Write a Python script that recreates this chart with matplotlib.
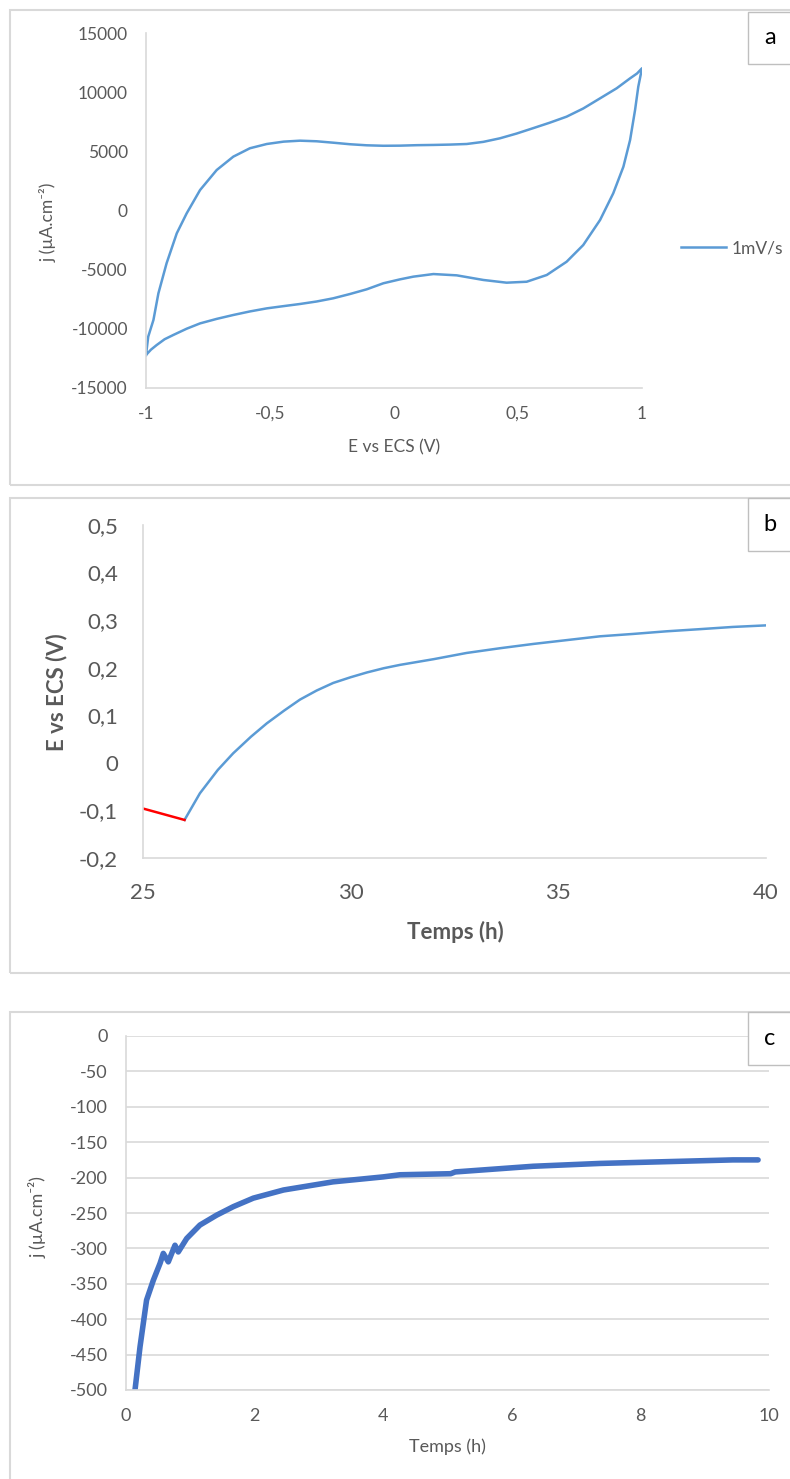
import matplotlib
matplotlib.use("Agg")
import matplotlib.pyplot as plt
from matplotlib.patches import Rectangle
from matplotlib.ticker import FuncFormatter

plt.rcParams['font.family'] = ['Lato', 'DejaVu Sans']
plt.rcParams['axes.unicode_minus'] = False

# --- data ---
# (a) cyclic voltammogram, 1 mV/s
cv_E = [-1.0, -0.991, -0.970, -0.950, -0.917, -0.876, -0.836, -0.782, -0.715,
        -0.648, -0.581, -0.513, -0.445, -0.379, -0.312, -0.245, -0.178, -0.110,
        -0.043, 0.024, 0.092, 0.159, 0.226, 0.293, 0.360, 0.427, 0.494, 0.560,
        0.628, 0.696, 0.763, 0.831, 0.898, 0.952, 0.980, 1.0,
        0.985, 0.972, 0.952, 0.925, 0.884, 0.831, 0.763, 0.696, 0.616, 0.535,
        0.454, 0.360, 0.253, 0.159, 0.078, 0.024, -0.043, -0.110, -0.178,
        -0.245, -0.312, -0.379, -0.445, -0.513, -0.581, -0.648, -0.715,
        -0.782, -0.836, -0.890, -0.925, -0.957, -0.980, -1.0]
cv_j = [-12210, -10660, -9250, -7000, -4460, -1930, -240, 1730, 3420,
        4550, 5260, 5620, 5820, 5900, 5850, 5730, 5600, 5510,
        5470, 5480, 5520, 5540, 5570, 5620, 5800, 6100, 6500, 6950,
        7420, 7930, 8620, 9480, 10330, 11170, 11580, 12020,
        10460, 8490, 5960, 3700, 1450, -800, -2920, -4330, -5450, -6020,
        -6100, -5870, -5480, -5370, -5590, -5820, -6150, -6660, -7060,
        -7420, -7690, -7900, -8080, -8270, -8530, -8830, -9160,
        -9540, -9990, -10520, -10880, -11370, -11760, -12210]

# (b) potential vs time
b_red_t = [25.0, 26.0]
b_red_E = [-0.096, -0.12]
b_t = [26.0, 26.37, 26.8, 27.17, 27.6, 27.98, 28.4, 28.78, 29.18, 29.58, 30.0,
       30.39, 30.8, 31.19, 32.0, 32.79, 33.6, 34.4, 35.2, 36.0, 36.8, 37.6,
       38.4, 39.2, 40.0]
b_E = [-0.12, -0.064, -0.015, 0.02, 0.055, 0.083, 0.11, 0.133, 0.152, 0.168,
       0.18, 0.19, 0.199, 0.206, 0.218, 0.231, 0.241, 0.25, 0.258, 0.266,
       0.271, 0.2765, 0.281, 0.2857, 0.289]

# (c) current density vs time
c_t = [0.14, 0.218, 0.32, 0.425, 0.53, 0.58, 0.658, 0.762, 0.813, 0.944, 1.15,
       1.41, 1.67, 1.98, 2.45, 3.22, 4.0, 4.26, 5.05, 5.12, 6.33, 7.37, 8.4,
       9.44, 9.83]
c_j = [-500, -439, -373, -345, -321, -307, -319, -295.5, -305, -286, -267,
       -253, -241, -229, -217.5, -206, -199, -196, -194.5, -192, -184, -180,
       -177.5, -175, -175]

W, H = 790, 1479
GRAY = '#595959'
LINE = '#D9D9D9'
JLABEL = 'j (µA.cm⁻²)'


def box(l, t, r, b):
    # pixel box -> figure fraction [left, bottom, width, height]
    return [l / W, 1 - b / H, (r - l) / W, (b - t) / H]


def comma(x, pos):
    s = ('%g' % round(x, 3)).replace('.', ',')
    return '0' if s == '-0' else s


def style(ax, size, pad, grid=False):
    for s in ['top', 'right']:
        ax.spines[s].set_visible(False)
    for s in ['left', 'bottom']:
        ax.spines[s].set_color(LINE)
        ax.spines[s].set_linewidth(1.2)
    ax.tick_params(length=0, labelsize=size, colors=GRAY, pad=pad)
    if grid:
        ax.yaxis.grid(True, color=LINE, lw=1.2)
        ax.set_axisbelow(True)


fig = plt.figure(figsize=(W / 100, H / 100), dpi=100)

# panel frames and letter boxes
for (t, b, letter, lt, lb) in [(10, 485, 'a', 12, 64), (498, 973, 'b', 498, 551),
                                (1012, 1490, 'c', 1012, 1065)]:
    fig.add_artist(Rectangle((10 / W, 1 - b / H), 800 / W, (b - t) / H,
                             transform=fig.transFigure, fill=False,
                             ec=LINE, lw=1.5))
    fig.add_artist(Rectangle((748 / W, 1 - lb / H), 60 / W, (lb - lt) / H,
                             transform=fig.transFigure, fill=True, fc='white',
                             ec='#BFBFBF', lw=1))
    fig.text(770 / W, 1 - (lt + lb) / 2 / H, letter, fontsize=17,
             color='black', ha='center', va='center')

# (a)
ax = fig.add_axes(box(146, 33, 642, 388))
ax.plot(cv_E, cv_j, color='#5B9BD5', lw=1.8, label='1mV/s',
        solid_joinstyle='round')
ax.set_xlim(-1, 1)
ax.set_ylim(-15000, 15000)
ax.set_xticks([-1, -0.5, 0, 0.5, 1])
ax.set_yticks(range(-15000, 15001, 5000))
ax.xaxis.set_major_formatter(FuncFormatter(comma))
style(ax, 12.5, 13)
ax.legend(loc='center left', bbox_to_anchor=(681 / W, 1 - 248 / H),
          bbox_transform=fig.transFigure, frameon=False, fontsize=12.5,
          handlelength=2.6, handletextpad=0.3, borderpad=0, borderaxespad=0,
          labelcolor=GRAY)
fig.text(394 / W, 1 - 447 / H, 'E vs ECS (V)', fontsize=12.5, color=GRAY,
         ha='center', va='center')
fig.text(48 / W, 1 - 222 / H, JLABEL, fontsize=12.5, color=GRAY,
         ha='center', va='center', rotation=90)

# (b)
ax = fig.add_axes(box(143, 525, 766, 858))
ax.plot(b_t, b_E, color='#5B9BD5', lw=1.8, solid_joinstyle='round')
ax.plot(b_red_t, b_red_E, color='#FF0000', lw=1.8)
ax.set_xlim(25, 40)
ax.set_ylim(-0.2, 0.5)
ax.set_xticks([25, 30, 35, 40])
ax.set_yticks([-0.2, -0.1, 0, 0.1, 0.2, 0.3, 0.4, 0.5])
ax.yaxis.set_major_formatter(FuncFormatter(comma))
style(ax, 16, 18)
fig.text(455 / W, 1 - 932 / H, 'Temps (h)', fontsize=16, color=GRAY,
         fontweight='bold', ha='center', va='center')
fig.text(57 / W, 1 - 692 / H, 'E vs ECS (V)', fontsize=16, color=GRAY,
         fontweight='bold', ha='center', va='center', rotation=90)

# (c)
ax = fig.add_axes(box(126, 1036, 769, 1390))
ax.plot(c_t, c_j, color='#4472C4', lw=4, solid_capstyle='round',
        solid_joinstyle='round')
ax.set_xlim(0, 10)
ax.set_ylim(-500, 0)
ax.set_xticks(range(0, 11, 2))
ax.set_yticks(range(-500, 1, 50))
style(ax, 13, 13, grid=True)
fig.text(447 / W, 1 - 1447 / H, 'Temps (h)', fontsize=13, color=GRAY,
         ha='center', va='center')
fig.text(38 / W, 1 - 1217 / H, JLABEL, fontsize=13, color=GRAY,
         ha='center', va='center', rotation=90)

fig.savefig('out.png', dpi=100)
